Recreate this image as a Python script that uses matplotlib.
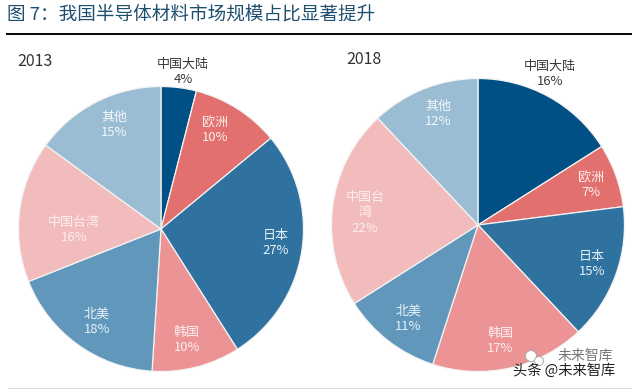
import matplotlib
matplotlib.use('Agg')
import matplotlib.pyplot as plt
from matplotlib.patches import Rectangle, Ellipse

plt.rcParams['font.family'] = ['Noto Sans CJK SC', 'DejaVu Sans']

title = '图 7：我国半导体材料市场规模占比显著提升'
years = ['2013', '2018']
labels_2013 = ['中国大陆\n4%', '欧洲\n10%', '日本\n27%', '韩国\n10%', '北美\n18%', '中国台湾\n16%', '其他\n15%']
values_2013 = [4, 10, 27, 10, 18, 16, 15]
labels_2018 = ['中国大陆\n16%', '欧洲\n7%', '日本\n15%', '韩国\n17%', '北美\n11%', '中国台\n湾\n22%', '其他\n12%']
values_2018 = [16, 7, 15, 17, 11, 22, 12]
colors = ['#004f85', '#e2706f', '#2f729f', '#ec9395', '#6097ba', '#f2bcbc', '#9bbdd4']
text_colors = ['#3a3a3a', '#fdeeee', '#e6f2fa', '#fdeeee', '#e6f2fa', '#fdeeee', '#f2f7fb']

# label centres in image pixels (layout only)
pos_2013 = [(183, 72), (215, 130), (276, 243), (187, 340), (97, 322), (74, 230), (114, 125)]
pos_2018 = [(550, 74), (591, 185), (592, 264), (500, 341), (408, 319), (365, 213), (438, 114)]

W, H = 640, 390
fig = plt.figure(figsize=(W/100, H/100), dpi=100)


def fx(x):
    return x / W


def fy(y):
    return 1 - y / H


def pie(cx, cy, r, vals, labs, positions):
    ax = fig.add_axes([fx(cx-r-2), fy(cy+r+2), (2*r+4)/W, (2*r+4)/H])
    ax.pie(vals, colors=colors, startangle=90, counterclock=False, radius=1,
           wedgeprops=dict(linewidth=0.9, edgecolor='#f3f3f3'))
    lim = (r+2)/r
    ax.set_xlim(-lim, lim)
    ax.set_ylim(-lim, lim)
    ax.set_aspect('equal')
    for lab, c, (x, y) in zip(labs, text_colors, positions):
        fig.text(fx(x), fy(y), lab, ha='center', va='center', fontsize=9.4,
                 color=c, linespacing=1.27, zorder=5)


pie(161, 229, 142.5, values_2013, labels_2013, pos_2013)
pie(478, 225, 146.5, values_2018, labels_2018, pos_2018)

fig.text(fx(17), fy(61), years[0], fontsize=11.5, color='#333333', va='center', fontweight='medium')
fig.text(fx(346), fy(59), years[1], fontsize=11.5, color='#333333', va='center', fontweight='medium')
fig.text(fx(7), fy(15), title, fontsize=13.4, color='#1e4f6e', va='center')
fig.add_artist(Rectangle((fx(6), fy(35)), 626/W, 2/H, transform=fig.transFigure, color='#0a0a0a', lw=0))
fig.add_artist(Rectangle((fx(8), fy(389)), 624/W, 1.2/H, transform=fig.transFigure, color='#dddddd', lw=0))

# watermark
for (x, y, rad) in [(531, 356, 5.5), (539, 361, 4.5)]:
    fig.add_artist(Ellipse((fx(x), fy(y)), 2*rad/W, 2*rad/H, transform=fig.transFigure,
                           facecolor='#ffffff', edgecolor='#aaaaaa', lw=0.7, zorder=6))
fig.text(fx(558), fy(356), '未来智库', fontsize=10, color='#777777', ha='left', va='center', zorder=6)
fig.text(fx(513), fy(371), '头条 @未来智库', fontsize=10.3, color='#222222', ha='left', va='center', zorder=7)
fig.savefig('out.png', dpi=100)
